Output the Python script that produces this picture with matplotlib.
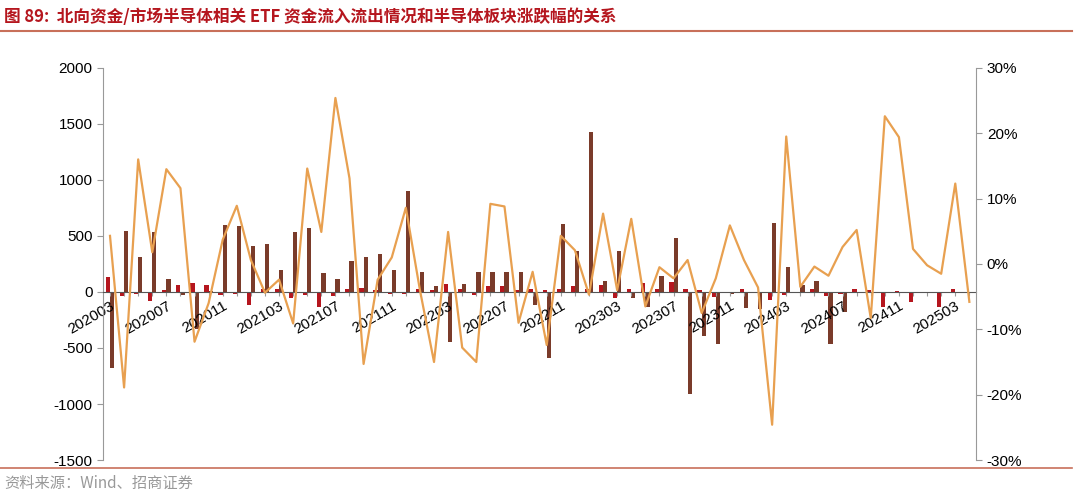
import matplotlib.pyplot as plt
import numpy as np

plt.rcParams['font.family'] = ['Noto Sans CJK SC', 'DejaVu Sans']

# months 202003 .. 202504
months = [f"{2020 + (2 + i) // 12}{(2 + i) % 12 + 1:02d}" for i in range(62)]

north = [134, -40, -20, -80, 20, 60, 81, 60, -25, -20, -120, 30, 30, -50, -30, -135,
         -40, 30, 35, 20, -15, -15, 30, 20, 75, 30, -30, 50, 55, 20, 30, 15,
         30, 50, 30, 60, -55, 30, 80, 30, 90, 30, 20, -45, -10, 30, -10, -70,
         -25, -10, 30, -40, -15, 30, 15, -130, 10, -90, -10, -130, 30, 0]
etf = [-680, 540, 312, 535, 116, -25, -330, 5, 597, 590, 411, 426, 195, 535, 570, 165,
       115, 280, 315, 340, 195, 900, 175, 50, -450, 70, 180, 180, 180, 180, -120, -590,
       610, 365, 1425, 100, 365, -55, -130, 145, 480, -915, -390, -460, -20, -140, -155, 615,
       225, 60, 95, -460, -180, 0, 0, 0, 0, 0, 0, 0, 0, 0]
sector = [4.3, -18.9, 16.0, 1.8, 14.5, 11.6, -11.9, -6.0, 3.7, 8.9, 0.6, -4.4, -2.4, -9.1, 14.6, 4.9,
          25.4, 13.1, -15.3, -2.4, 1.0, 8.6, -4.0, -15.0, 4.9, -12.8, -15.0, 9.2, 8.8, -9.0, -1.2, -12.4,
          4.3, 2.1, -4.7, 7.7, -4.0, 6.9, -6.5, -0.5, -2.2, 0.6, -7.5, -2.2, 5.9, 0.6, -3.6, -24.6,
          19.5, -3.5, -0.4, -1.8, 2.6, 5.2, -8.3, 22.6, 19.4, 2.3, -0.2, -1.5, 12.3, -5.8]

x = np.arange(len(months))
NUM_FONT = ['Liberation Sans', 'DejaVu Sans']

fig = plt.figure(figsize=(10.77, 4.97), dpi=100)
ax = fig.add_axes([0.0956, 0.0744, 0.811, 0.789])
ax.bar(x - 0.15, north, width=0.3, color='#B5161E', label='北向资金')
ax.bar(x + 0.15, etf, width=0.3, color='#7A3B2A', label='半导体ETF')
ax.set_xlim(-0.5, len(x) - 0.5)
ax.set_ylim(-1500, 2000)
ax.set_yticks(range(-1500, 2001, 500))
ax.set_yticklabels([str(v) for v in range(-1500, 2001, 500)], fontsize=11, family=NUM_FONT)
ax.tick_params(axis='y', colors='#999999', labelcolor='black', length=4)

ax.spines['bottom'].set_position(('data', 0))
ax.spines['bottom'].set_color('#555555')
ax.spines['top'].set_visible(False)
ax.spines['right'].set_visible(False)
ax.spines['left'].set_color('#999999')
ax.set_xticks(x)
ax.set_xticklabels([m if i % 4 == 0 else '' for i, m in enumerate(months)],
                   rotation=30, ha='right', rotation_mode='anchor', fontsize=11,
                   family=NUM_FONT)
ax.tick_params(axis='x', length=3, colors='#999999', labelcolor='black', pad=2)

ax2 = ax.twinx()
ax2.plot(x, sector, color='#E8A050', linewidth=1.6)
ax2.set_ylim(-30, 30)
ax2.set_yticks(range(-30, 31, 10))
ax2.set_yticklabels([f"{v}%" for v in range(-30, 31, 10)], fontsize=11, family=NUM_FONT)
ax2.tick_params(axis='y', colors='#999999', labelcolor='black', length=4)
for s in ['top', 'left', 'bottom']:
    ax2.spines[s].set_visible(False)
ax2.spines['right'].set_color('#999999')

fig.text(0.004, 0.965, '图 89:  北向资金/市场半导体相关 ETF 资金流入流出情况和半导体板块涨跌幅的关系',
         color='#B5161E', fontsize=12, fontweight='bold', va='center')
fig.add_artist(plt.Line2D([0.0, 0.995], [0.937, 0.937], color='#C8705A', linewidth=1.5))
fig.add_artist(plt.Line2D([0.0, 0.995], [0.058, 0.058], color='#C8705A', linewidth=1.2))
fig.text(0.004, 0.028, '资料来源：Wind、招商证券', color='#999999', fontsize=11, va='center')

fig.savefig('out.png', dpi=100)
